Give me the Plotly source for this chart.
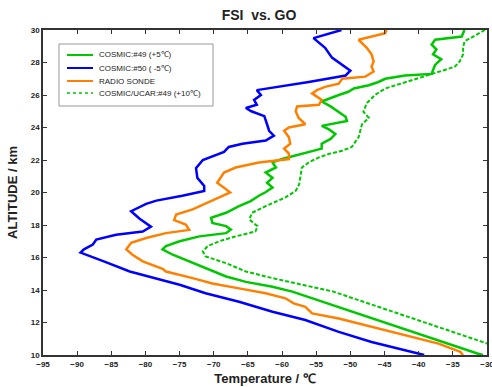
import plotly.graph_objects as go

# ---- data (altitude km, temperature degC) ----
blue_alt = [30.0, 29.5, 28.9, 28.3, 27.5, 27.2, 26.8, 26.3, 26.0, 25.7, 25.4, 25.2, 25.0, 24.7, 24.2, 23.8, 23.5, 23.2, 23.0, 22.8, 22.5, 22.0, 21.5, 20.9, 20.4, 20.1, 19.8, 19.5, 19.3, 18.85, 18.4, 17.9, 17.6, 17.4, 17.1, 16.8, 16.5, 16.3, 15.75, 15.14, 14.32, 13.80, 13.28, 12.66, 12.15, 11.42, 10.80, 10.29, 10.0]
blue_t = [-51.3, -55.4, -53.7, -52.7, -50.0, -50.7, -56.1, -63.7, -63.1, -64.1, -63.7, -65.3, -64.5, -62.6, -62.2, -61.9, -61.2, -62.4, -65.8, -67.8, -68.5, -71.6, -72.6, -72.4, -71.4, -71.4, -74.6, -78.4, -79.9, -82.1, -80.9, -79.2, -80.4, -84.3, -87.2, -87.7, -89.0, -89.5, -86.0, -82.3, -75.0, -71.2, -66.3, -61.4, -56.6, -51.7, -46.9, -42.0, -39.2]

orange_alt = [30.0, 29.8, 29.4, 29.2, 28.9, 28.5, 28.06, 27.75, 27.44, 27.13, 27.0, 26.7, 26.5, 26.3, 26.1, 25.9, 25.7, 25.4, 25.3, 25.0, 24.6, 24.2, 24.0, 23.8, 23.4, 23.0, 22.7, 22.4, 22.06, 21.85, 21.54, 21.23, 20.9, 20.6, 20.3, 20.0, 19.7, 19.3, 18.96, 18.65, 18.3, 18.03, 17.7, 17.5, 17.2, 16.9, 16.5, 16.17, 15.76, 15.3, 15.14, 14.73, 14.4, 14.1, 13.8, 13.49, 13.18, 12.97, 12.77, 12.56, 12.25, 11.73, 11.22, 10.7, 10.19, 10.0]
orange_t = [-44.7, -44.9, -48.8, -48.3, -47.6, -46.9, -46.6, -46.9, -46.6, -47.8, -51.2, -51.7, -53.7, -54.9, -55.6, -54.9, -54.2, -54.6, -57.8, -58.0, -57.6, -56.6, -59.0, -59.7, -59.0, -58.8, -59.7, -59.0, -59.0, -63.4, -66.8, -68.5, -69.0, -69.5, -68.5, -67.6, -69.2, -71.2, -73.1, -75.5, -75.8, -74.1, -73.6, -77.0, -79.9, -82.1, -82.8, -81.9, -80.4, -77.5, -77.0, -73.1, -70.2, -66.3, -62.4, -59.5, -58.3, -56.6, -56.1, -55.6, -51.7, -46.9, -42.0, -37.1, -33.9, -33.5]

green_alt = [30.0, 29.6, 29.4, 29.1, 28.8, 28.5, 28.2, 27.85, 27.54, 27.3, 27.2, 27.0, 26.8, 26.6, 26.4, 26.2, 26.0, 25.8, 25.6, 25.3, 24.97, 24.66, 24.4, 24.1, 23.9, 23.6, 23.3, 23.0, 22.7, 22.37, 22.06, 21.85, 21.54, 21.23, 20.9, 20.6, 20.3, 20.0, 19.8, 19.47, 19.16, 18.75, 18.44, 18.13, 17.93, 17.72, 17.5, 17.3, 17.0, 16.7, 16.5, 16.17, 15.76, 15.14, 14.83, 14.5, 14.2, 13.9, 13.49, 13.08, 12.66, 12.25, 11.84, 11.42, 11.0, 10.6, 10.08, 10.0]
green_t = [-33.3, -33.7, -37.6, -38.1, -37.4, -37.9, -36.7, -37.6, -37.9, -38.1, -42.0, -44.9, -45.9, -47.3, -49.5, -50.3, -51.7, -52.9, -54.2, -52.9, -51.7, -50.7, -50.5, -54.2, -53.2, -52.2, -52.9, -54.2, -54.2, -57.1, -60.0, -61.4, -60.9, -62.4, -61.4, -62.2, -61.4, -62.5, -63.4, -64.6, -66.3, -68.2, -70.4, -70.2, -68.2, -67.5, -68.2, -72.1, -75.0, -77.0, -77.5, -76.0, -73.6, -70.2, -68.2, -65.3, -61.4, -58.5, -55.6, -52.7, -49.8, -46.9, -44.0, -41.0, -38.1, -35.2, -31.3, -30.6]

dash_alt = [30.0, 29.7, 29.3, 28.9, 28.5, 28.06, 27.75, 27.54, 27.23, 26.8, 26.4, 26.0, 25.5, 24.97, 24.6, 24.2, 23.8, 23.4, 22.8, 22.57, 22.37, 22.16, 21.85, 21.54, 21.0, 20.5, 20.1, 19.7, 19.16, 18.75, 18.34, 17.93, 17.6, 17.3, 17.0, 16.7, 16.38, 16.07, 15.65, 15.14, 14.73, 14.3, 13.9, 13.49, 13.08, 12.66, 12.25, 11.84, 11.42, 11.0, 10.6, 10.0]
dash_t = [-30.3, -31.6, -33.3, -33.5, -33.5, -34.0, -34.7, -36.2, -38.6, -42.0, -44.9, -46.4, -47.6, -48.1, -47.3, -48.3, -48.6, -48.8, -49.8, -51.2, -53.2, -54.6, -56.1, -57.1, -57.3, -57.5, -58.0, -59.5, -62.4, -64.4, -64.8, -63.6, -63.9, -66.8, -69.2, -70.9, -71.6, -71.2, -68.2, -65.3, -61.4, -56.8, -52.5, -49.6, -46.7, -43.8, -40.9, -38.0, -35.0, -32.1, -29.2, -25.0]

x_ticks = list(range(-95, -29, 5))
y_ticks = list(range(10, 31, 2))

series_names = ["COSMIC:#49 (+5℃)", "COSMIC:#50 ( -5℃)", "RADIO SONDE", "COSMIC/UCAR:#49 (+10℃)"]

GREEN = "#00C800"
BLUE = "#0000FF"
ORANGE = "#FF8000"
FONT = "Liberation Sans"
TXT = "#222222"

styles = [
    dict(color=GREEN, width=2.5),
    dict(color=BLUE, width=2.5),
    dict(color=ORANGE, width=2.5),
    dict(color=GREEN, width=2, dash="4px,2px"),
]
xs = [green_t, blue_t, orange_t, dash_t]
ys = [green_alt, blue_alt, orange_alt, dash_alt]

fig = go.Figure()
for name, x, y, st in zip(series_names, xs, ys, styles):
    fig.add_trace(go.Scatter(x=x, y=y, mode="lines", name=name, line=st, showlegend=False))

# ---- legend drawn as a compact box (paper coordinates) ----
L, R, T, B = 43, 487, 30, 355  # plot area in pixels
def px(xp):
    return (xp - L) / (R - L)
def py(yp):
    return (B - yp) / (B - T)

shapes = [dict(type="rect", xref="paper", yref="paper", x0=px(59), x1=px(213), y0=py(106), y1=py(44),
               line=dict(color="#999999", width=1), fillcolor="white", layer="above")]
annotations = []
rows = [55, 68, 81, 93]
for name, st, yy in zip(series_names, styles, rows):
    shapes.append(dict(type="line", xref="paper", yref="paper", x0=px(67), x1=px(93), y0=py(yy), y1=py(yy),
                       line=dict(color=st["color"], width=2 if "dash" not in st else 1.5,
                                 dash="dot" if "dash" in st else "solid"), layer="above"))
    annotations.append(dict(text=name, xref="paper", yref="paper", x=px(97), y=py(yy), xanchor="left",
                            yanchor="middle", showarrow=False,
                            font=dict(family=FONT, size=8, color=TXT)))

axis_common = dict(showline=True, mirror="ticks", linecolor="#333333", linewidth=1.5,
                   ticks="inside", ticklen=4, tickcolor="#333333", showgrid=False, zeroline=False,
                   ticklabeloverflow="allow",
                   tickfont=dict(family=FONT, size=8, color=TXT, weight="bold"))

fig.update_layout(
    width=492, height=387,
    margin=dict(l=43, r=5, t=30, b=32, autoexpand=False),
    paper_bgcolor="white", plot_bgcolor="white",
    title=dict(text="FSI  vs. GO", x=259 / 492, xanchor="center", y=1 - 15 / 387, yanchor="middle",
               font=dict(family=FONT, size=14, color=TXT, weight="bold")),
    xaxis=dict(range=[-95, -30], tickvals=x_ticks, ticklabelstandoff=1,
               title=dict(text="Temperature / ℃", standoff=6,
                          font=dict(family=FONT, size=13, color=TXT, weight="bold")),
               **axis_common),
    yaxis=dict(range=[10, 30], tickvals=y_ticks,
               title=dict(text="ALTITUDE / km", standoff=10,
                          font=dict(family=FONT, size=13, color=TXT, weight="bold")),
               **axis_common),
    shapes=shapes,
    annotations=annotations,
    showlegend=False,
)

fig.write_html("out.html", config={"displayModeBar": False},
               post_script="document.body.style.margin='0';document.body.style.overflow='hidden';")
